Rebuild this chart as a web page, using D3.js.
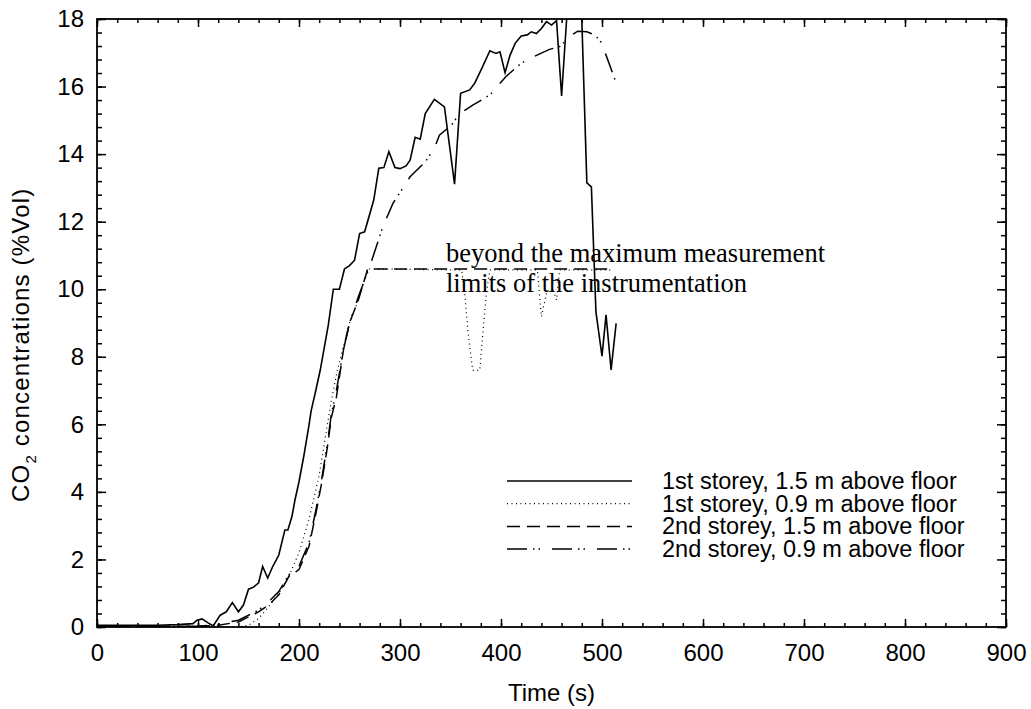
<!DOCTYPE html>
<html>
<head>
<meta charset="utf-8">
<script src="https://cdn.jsdelivr.net/npm/d3@7"></script>
<style>
  body { margin: 0; background: #fff; }
  svg text { font-family: "Liberation Sans", Arial, sans-serif; fill: #000; }
  .note { font-family: "Liberation Serif", "Times New Roman", serif; }
</style>
</head>
<body>
<div id="chart"></div>
<script>
// 1st storey, 1.5 m above floor
var s1Time = [0, 20, 40, 60, 80, 95, 99, 104, 110, 115, 122, 128, 134, 140, 145, 150, 155, 160, 164, 169, 174, 180, 186, 189, 193, 196, 200, 205, 210, 212, 216, 221, 229, 234, 240, 245, 250, 255, 260, 265, 274, 279, 284, 289, 295, 300, 306, 310, 315, 320, 325, 334, 344, 354, 360, 369, 374, 381, 389, 395, 399, 404, 409, 414, 420, 426, 430, 435, 440, 445, 450, 455, 460, 465, 470, 476, 480, 485, 489.5, 494, 500, 504, 509, 514];
var s1Vals = [0.05, 0.05, 0.05, 0.05, 0.07, 0.1, 0.2, 0.24, 0.12, 0.03, 0.35, 0.45, 0.72, 0.45, 0.65, 1.12, 1.18, 1.31, 1.79, 1.45, 1.79, 2.13, 2.87, 2.87, 3.27, 3.76, 4.3, 5.1, 6.0, 6.4, 6.92, 7.6, 8.94, 10.0, 10.0, 10.6, 10.7, 10.86, 11.65, 11.7, 12.64, 13.58, 13.6, 14.07, 13.6, 13.57, 13.65, 13.82, 14.5, 14.44, 15.2, 15.62, 15.4, 13.11, 15.8, 15.9, 16.1, 16.54, 17.06, 16.98, 17.03, 16.41, 16.93, 17.28, 17.5, 17.53, 17.62, 17.57, 17.72, 17.92, 17.82, 17.95, 15.72, 18.0, 18.6, 18.6, 18.0, 13.15, 13.03, 9.33, 8.02, 9.24, 7.61, 8.99];

// 1st storey, 0.9 m above floor
var s2Time = [0, 100, 140, 150, 160, 170, 180, 190, 200, 210, 220, 226, 232, 238, 244, 250, 259, 268, 361, 364, 367.5, 372, 379, 382, 385.5, 389, 436, 440, 445, 451.5, 455, 458, 510];
var s2Vals = [0, 0, 0, 0.05, 0.25, 0.6, 1.0, 1.5, 2.2, 3.2, 4.5, 5.6, 6.7, 7.6, 8.3, 9.0, 9.7, 10.6, 10.57, 9.88, 8.69, 7.6, 7.6, 8.69, 9.88, 10.57, 10.57, 9.19, 9.88, 9.98, 9.68, 10.57, 10.57];

// 2nd storey, 1.5 m above floor
var s3Time = [0, 100, 120, 140, 160, 170, 180, 190, 200, 210, 217, 222, 228, 232, 237, 244, 250, 259, 268, 510];
var s3Vals = [0.02, 0.02, 0.05, 0.15, 0.45, 0.65, 0.95, 1.5, 1.7, 2.4, 3.4, 4.2, 5.3, 6.2, 6.8, 8.2, 9.0, 9.7, 10.6, 10.6];

// 2nd storey, 0.9 m above floor
var s4Time = [0, 100, 120, 140, 160, 170, 180, 190, 200, 210, 217, 222, 228, 232, 237, 244, 250, 259, 270, 277, 283, 293, 310, 325, 334, 339, 351, 359, 372, 389, 405, 420, 432, 448, 458, 470, 476, 485, 491, 498, 504, 513];
var s4Vals = [0.02, 0.02, 0.08, 0.2, 0.5, 0.75, 1.05, 1.55, 1.8, 2.5, 3.5, 4.3, 5.4, 6.3, 7.0, 8.2, 9.0, 9.8, 10.67, 11.3, 11.85, 12.54, 13.33, 13.77, 14.17, 14.56, 14.86, 15.2, 15.45, 15.75, 16.3, 16.69, 16.88, 17.1, 17.18, 17.53, 17.64, 17.62, 17.55, 17.38, 16.93, 16.19];

var seriesNames = ["1st storey, 1.5 m above floor", "1st storey, 0.9 m above floor", "2nd storey, 1.5 m above floor", "2nd storey, 0.9 m above floor"];
var xTicks = [0, 100, 200, 300, 400, 500, 600, 700, 800, 900];
var yTicks = [0, 2, 4, 6, 8, 10, 12, 14, 16, 18];
var noteLines = ["beyond the maximum measurement", "limits of the instrumentation"];

var margin = { top: 19, right: 25, bottom: 82, left: 97 };
var width = 1031 - margin.left - margin.right;
var height = 709 - margin.top - margin.bottom;

var svg = d3.select("#chart")
    .append("svg")
    .attr("width", 1031)
    .attr("height", 709);

var g = svg.append("g")
    .attr("transform", "translate(" + margin.left + "," + margin.top + ")");

var x = d3.scaleLinear().domain([0, 900]).range([0, width]);
var y = d3.scaleLinear().domain([0, 18]).range([height, 0]);

var xMinor = d3.range(0, 46).map(function(i) { return i * 20; });
var yMinor = d3.range(0, 46).map(function(i) { return +(i * 0.4).toFixed(1); });

function styleAxis(sel) {
    sel.select(".domain").remove();
    sel.selectAll("line").attr("stroke", "#000").attr("stroke-width", 1.5);
    sel.selectAll("text").style("font-size", "24px");
}

// minor ticks on all four sides
g.append("g").attr("transform", "translate(0," + height + ")")
    .call(d3.axisBottom(x).tickValues(xMinor).tickFormat("").tickSizeInner(-4).tickSizeOuter(0)).call(styleAxis);
g.append("g")
    .call(d3.axisTop(x).tickValues(xMinor).tickFormat("").tickSizeInner(-4).tickSizeOuter(0)).call(styleAxis);
g.append("g")
    .call(d3.axisLeft(y).tickValues(yMinor).tickFormat("").tickSizeInner(-5).tickSizeOuter(0)).call(styleAxis);
g.append("g").attr("transform", "translate(" + width + ",0)")
    .call(d3.axisRight(y).tickValues(yMinor).tickFormat("").tickSizeInner(-5).tickSizeOuter(0)).call(styleAxis);

// major ticks
g.append("g").attr("transform", "translate(0," + height + ")")
    .call(d3.axisBottom(x).tickValues(xTicks).tickSizeInner(-8).tickSizeOuter(0).tickPadding(17)).call(styleAxis);
g.append("g")
    .call(d3.axisTop(x).tickValues(xTicks).tickFormat("").tickSizeInner(-8).tickSizeOuter(0)).call(styleAxis);
g.append("g")
    .call(d3.axisLeft(y).tickValues(yTicks).tickSizeInner(-9).tickSizeOuter(0).tickPadding(13)).call(styleAxis);
g.append("g").attr("transform", "translate(" + width + ",0)")
    .call(d3.axisRight(y).tickValues(yTicks).tickFormat("").tickSizeInner(-9).tickSizeOuter(0)).call(styleAxis);

g.append("clipPath").attr("id", "plot-clip")
    .append("rect").attr("width", width).attr("height", height);

var line = d3.line()
    .x(function(d) { return x(d[0]); })
    .y(function(d) { return y(d[1]); });

var series = [
    { t: s1Time, v: s1Vals, dash: null, w: 1.6 },
    { t: s2Time, v: s2Vals, dash: "1 3.5", w: 1.2 },
    { t: s3Time, v: s3Vals, dash: "13 7", w: 1.5 },
    { t: s4Time, v: s4Vals, dash: "20 6 1.5 4 1.5 12", w: 1.5 }
];

series.forEach(function(s) {
    var pts = s.t.map(function(t, i) { return [t, s.v[i]]; });
    g.append("path")
        .datum(pts)
        .attr("clip-path", "url(#plot-clip)")
        .attr("fill", "none")
        .attr("stroke", "#000")
        .attr("stroke-width", s.w)
        .attr("stroke-dasharray", s.dash)
        .attr("d", line);
});

// frame
g.append("rect")
    .attr("width", width)
    .attr("height", height)
    .attr("fill", "none")
    .attr("stroke", "#000")
    .attr("stroke-width", 1.8);

// annotation
g.selectAll(".note")
    .data(noteLines)
    .enter().append("text")
    .attr("class", "note")
    .attr("x", 349)
    .attr("y", function(d, i) { return 243 + i * 30; })
    .style("font-size", "26.5px")
    .text(function(d) { return d; });

// legend
var legend = g.append("g").attr("transform", "translate(410,462)");
series.forEach(function(s, i) {
    legend.append("line")
        .attr("x1", 0).attr("x2", 125)
        .attr("y1", i * 22.7).attr("y2", i * 22.7)
        .attr("stroke", "#000")
        .attr("stroke-width", s.w)
        .attr("stroke-dasharray", s.dash);
    legend.append("text")
        .attr("x", 155)
        .attr("y", i * 22.7 + 8)
        .style("font-size", "23.5px")
        .text(seriesNames[i]);
});

// axis titles
svg.append("text")
    .attr("x", margin.left + width / 2)
    .attr("y", 701)
    .attr("text-anchor", "middle")
    .style("font-size", "24px")
    .text("Time (s)");

var yTitle = svg.append("text")
    .attr("transform", "translate(29,502) rotate(-90)")
    .attr("text-anchor", "start")
    .style("font-size", "24px")
    .style("letter-spacing", "1.2px");
yTitle.append("tspan").text("CO");
yTitle.append("tspan").attr("dy", 7).style("font-size", "15px").text("2");
yTitle.append("tspan").attr("dy", -7).text(" concentrations (%Vol)");
</script>
</body>
</html>
